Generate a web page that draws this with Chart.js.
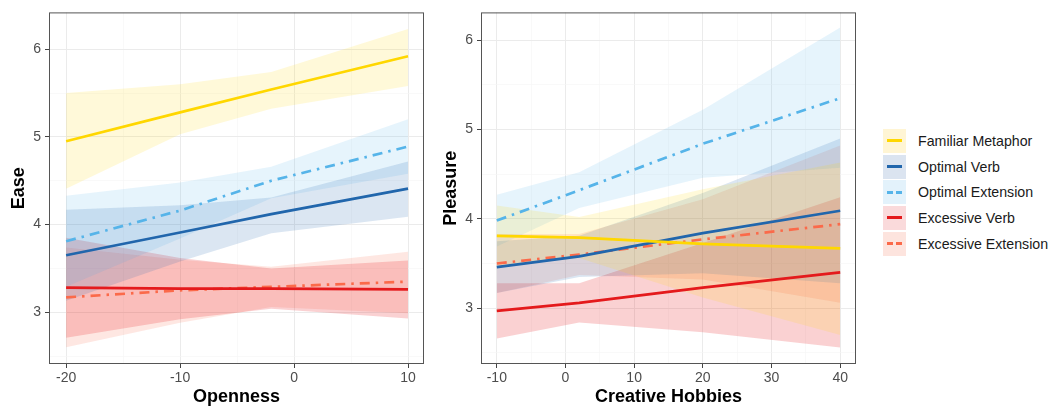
<!DOCTYPE html>
<html>
<head>
<meta charset="utf-8">
<script src="https://cdn.jsdelivr.net/npm/chart.js@4"></script>
<style>
  body { margin: 0; background: #fff; font-family: "Liberation Sans", Arial, sans-serif; }
  #wrap { position: relative; width: 1051px; height: 408px; }
  canvas { position: absolute; top: 0; }
  #legend { position: absolute; left: 883px; top: 128px; }
  .item { display: flex; align-items: center; height: 25.7px; }
  .key { width: 23px; height: 24px; position: relative; margin-right: 12px; }
  .key span { position: absolute; left: 4px; right: 4px; top: 10.5px; height: 0; border-top: 3px solid; }
  .lbl { font-size: 14.2px; color: #1a1a1a; white-space: nowrap; }
</style>
</head>
<body>
<div id="wrap">
  <canvas id="ease" width="440" height="408" style="left:0"></canvas>
  <canvas id="pleasure" width="420" height="408" style="left:440px"></canvas>
  <div id="legend"></div>
</div>
<script>
// categories
const groups = ['Familiar Metaphor', 'Optimal Verb', 'Optimal Extension', 'Excessive Verb', 'Excessive Extension'];
const lineColors = ['#ffd700', '#2166ac', '#56b4e9', '#e41a1c', '#fb6a4a'];
const bandColors = ['rgba(255,215,0,0.15)', 'rgba(33,102,172,0.16)', 'rgba(86,180,233,0.15)', 'rgba(228,26,28,0.2)', 'rgba(251,106,74,0.16)'];
const keyColors = ['#fff5d4', '#dbe4f0', '#e3f2fb', '#fadadb', '#fde4de'];
const dashed = [false, false, true, false, true];

// left panel: Ease vs Openness
const opennessX = [-20, -10, -2, 10];
const easeFit = [
  [4.95, 5.28, 5.54, 5.92],
  [3.65, 3.91, 4.12, 4.41],
  [3.81, 4.16, 4.50, 4.89],
  [3.28, 3.27, 3.27, 3.26],
  [3.17, 3.25, 3.29, 3.35]
];
const easeHi = [
  [5.50, 5.60, 5.74, 6.23],
  [4.17, 4.22, 4.31, 4.72],
  [4.33, 4.48, 4.66, 5.20],
  [3.85, 3.62, 3.50, 3.59],
  [3.74, 3.60, 3.52, 3.69]
];
const easeLo = [
  [4.41, 5.03, 5.32, 5.58],
  [3.13, 3.58, 3.90, 4.09],
  [3.29, 3.84, 4.30, 4.58],
  [2.71, 2.92, 3.04, 2.93],
  [2.60, 2.88, 3.06, 2.99]
];

// right panel: Pleasure vs Creative Hobbies
const hobbiesX = [-10, 2, 20, 40];
const pleasureFit = [
  [3.81, 3.79, 3.72, 3.67],
  [3.46, 3.58, 3.84, 4.09],
  [3.98, 4.32, 4.84, 5.35],
  [2.97, 3.06, 3.23, 3.40],
  [3.50, 3.60, 3.77, 3.94]
];
const pleasureHi = [
  [4.15, 4.02, 4.33, 4.63],
  [3.75, 3.81, 4.29, 4.90],
  [4.27, 4.52, 5.22, 6.14],
  [3.28, 3.28, 3.73, 4.24],
  [3.83, 3.83, 4.22, 4.82]
];
const pleasureLo = [
  [3.47, 3.56, 3.12, 2.70],
  [3.17, 3.35, 3.39, 3.28],
  [3.69, 4.12, 4.46, 4.57],
  [2.66, 2.84, 2.73, 2.56],
  [3.17, 3.37, 3.32, 3.06]
];

const easeXTicks = [-20, -15, -10, -5, 0, 5, 10];
const easeXMajor = [-20, -10, 0, 10];
const hobbiesXTicks = [-10, -5, 0, 5, 10, 15, 20, 25, 30, 35, 40];
const hobbiesXMajor = [-10, 0, 10, 20, 30, 40];
const yTicks = [2.5, 3, 3.5, 4, 4.5, 5, 5.5, 6];
const yMajor = [3, 4, 5, 6];

const pts = (xs, ys) => xs.map((x, i) => ({ x: x, y: ys[i] }));

function buildDatasets(xs, fit, hi, lo) {
  var ds = [];
  groups.forEach((g, k) => {
    ds.push({ data: pts(xs, hi[k]), borderWidth: 0, pointRadius: 0, fill: false, order: 2 });
    ds.push({ data: pts(xs, lo[k]), borderWidth: 0, pointRadius: 0, fill: '-1', backgroundColor: bandColors[k], order: 2 });
  });
  groups.forEach((g, k) => {
    ds.push({
      label: g, data: pts(xs, fit[k]), borderColor: lineColors[k], borderWidth: 2.7,
      borderDash: dashed[k] ? [10, 6, 2.5, 6] : [], pointRadius: 0, fill: false, order: 0
    });
  });
  return ds;
}

const boxPlugin = {
  id: 'box',
  afterDraw(chart) {
    const a = chart.chartArea, ctx = chart.ctx;
    ctx.save();
    ctx.strokeStyle = '#555';
    ctx.lineWidth = 1;
    ctx.strokeRect(a.left + 0.5, a.top + 0.5, a.right - a.left - 1, a.bottom - a.top - 1);
    ctx.restore();
  }
};

function makeChart(id, xs, fit, hi, lo, opt) {
  const tickFont = { family: 'Liberation Sans, Arial', size: 14 };
  const titleFont = { family: 'Liberation Sans, Arial', size: 18, weight: 'bold' };
  return new Chart(id, {
    type: 'line',
    data: { datasets: buildDatasets(xs, fit, hi, lo) },
    plugins: [boxPlugin],
    options: {
      responsive: false, animation: false, devicePixelRatio: 1,
      layout: { padding: { top: 11, right: opt.padRight, left: 0, bottom: 0 } },
      plugins: { legend: { display: false }, tooltip: { enabled: false } },
      scales: {
        x: {
          type: 'linear', min: opt.xmin, max: opt.xmax,
          afterBuildTicks: s => { s.ticks = opt.xTicks.map(v => ({ value: v })); },
          afterFit: s => { s.height = 44; },
          ticks: {
            autoSkip: false, maxRotation: 0, color: '#4d4d4d', font: tickFont, padding: 2,
            callback: v => opt.xMajor.includes(v) ? String(v) : ''
          },
          grid: {
            color: c => opt.xMajor.includes(c.tick.value) ? '#ebebeb' : '#f5f5f5',
            lineWidth: c => opt.xMajor.includes(c.tick.value) ? 1 : 0.6,
            tickColor: c => opt.xMajor.includes(c.tick.value) ? '#444' : 'rgba(0,0,0,0)',
            tickLength: 4
          },
          border: { display: false },
          title: { display: true, text: opt.xTitle, color: '#000', font: titleFont, padding: { top: 0, bottom: 0 } }
        },
        y: {
          min: opt.ymin, max: opt.ymax,
          afterBuildTicks: s => { s.ticks = yTicks.map(v => ({ value: v })); },
          afterFit: s => { s.width = opt.yWidth; },
          ticks: {
            autoSkip: false, color: '#4d4d4d', font: tickFont, padding: 4,
            callback: v => yMajor.includes(v) ? String(v) : ''
          },
          grid: {
            color: c => yMajor.includes(c.tick.value) ? '#ebebeb' : '#f5f5f5',
            lineWidth: c => yMajor.includes(c.tick.value) ? 1 : 0.6,
            tickColor: c => yMajor.includes(c.tick.value) ? '#444' : 'rgba(0,0,0,0)',
            tickLength: 4
          },
          border: { display: false },
          title: { display: true, text: opt.yTitle, color: '#000', font: titleFont, padding: { top: opt.yTitleTop, bottom: 4 } }
        }
      }
    }
  });
}

makeChart('ease', opennessX, easeFit, easeHi, easeLo, {
  xmin: -21.5, xmax: 11.4, ymin: 2.41, ymax: 6.42, padRight: 16, yWidth: 49, yTitleTop: 8,
  xTicks: easeXTicks, xMajor: easeXMajor, xTitle: 'Openness', yTitle: 'Ease'
});
makeChart('pleasure', hobbiesX, pleasureFit, pleasureHi, pleasureLo, {
  xmin: -12.3, xmax: 42.3, ymin: 2.375, ymax: 6.31, padRight: 4, yWidth: 41, yTitleTop: 0,
  xTicks: hobbiesXTicks, xMajor: hobbiesXMajor, xTitle: 'Creative Hobbies', yTitle: 'Pleasure'
});

// legend
var legend = document.getElementById('legend');
groups.forEach((g, k) => {
  var style = dashed[k]
    ? `border-top: 3px dashed ${lineColors[k]};`
    : `border-top: 3px solid ${lineColors[k]};`;
  legend.innerHTML += `<div class="item"><div class="key" style="background:${keyColors[k]}"><span style="${style}"></span></div><div class="lbl">${g}</div></div>`;
});
</script>
</body>
</html>
